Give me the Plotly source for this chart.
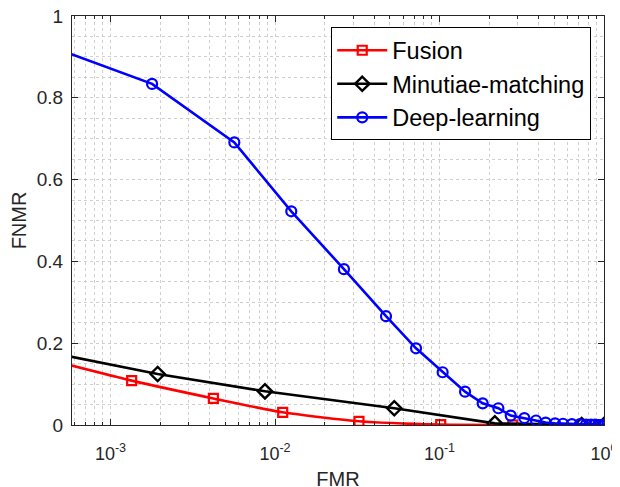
import plotly.graph_objects as go

# FMR / FNMR values
fusion_fmr = [5.0e-4, 1.345e-3, 4.22e-3, 1.114e-2, 3.24e-2, 1.017e-1, 2.79e-1, 1.0]
fusion_fnmr = [0.152, 0.1085, 0.065, 0.031, 0.009, 0.001, 0.0, 0.0]

minutiae_fmr = [5.0e-4, 1.935e-3, 8.69e-3, 5.31e-2, 2.17e-1, 7.31e-1, 1.0]
minutiae_fnmr = [0.172, 0.1247, 0.0824, 0.041, 0.004, 0.0, 0.0]

deep_fmr = [5.0e-4, 1.79e-3, 5.66e-3, 1.256e-2, 2.625e-2, 4.73e-2, 7.2e-2, 1.045e-1,
            1.43e-1, 1.83e-1, 2.28e-1, 2.71e-1, 3.28e-1, 3.86e-1, 4.42e-1, 5.04e-1,
            5.63e-1, 6.38e-1, 7.15e-1, 7.77e-1, 8.34e-1, 8.82e-1, 9.2e-1, 9.46e-1,
            9.6e-1, 9.72e-1, 9.8e-1, 9.86e-1, 9.92e-1, 9.96e-1, 1.0]
deep_fnmr = [0.916, 0.834, 0.691, 0.5225, 0.381, 0.266, 0.1875, 0.129,
             0.0816, 0.053, 0.041, 0.023, 0.017, 0.011, 0.006, 0.004,
             0.003, 0.002, 0.002, 0.001, 0.001, 0.001, 0.0, 0.0,
             0.0, 0.0, 0.0, 0.0, 0.0, 0.0, 0.0]

x_tickvals = [1e-3, 1e-2, 1e-1, 1.0]
x_ticktext = ['10<sup>-3</sup>', '10<sup>-2</sup>', '10<sup>-1</sup>', '10<sup>0</sup>']
x_minor = [m * 10.0 ** e for e in range(-4, 0) for m in range(2, 10)]

font_name = 'Liberation Sans, Arial, sans-serif'
axis_col = '#262626'
grid_col = '#cfcfcf'

fig = go.Figure()
fig.add_trace(go.Scatter(x=fusion_fmr, y=fusion_fnmr, name='Fusion', mode='lines+markers',
                         line=dict(color='#ff0000', width=2.6, shape='spline', smoothing=0.6),
                         marker=dict(symbol='square-open', size=9, color='#ff0000',
                                     line=dict(width=2.2, color='#ff0000'))))
fig.add_trace(go.Scatter(x=minutiae_fmr, y=minutiae_fnmr, name='Minutiae-matching', mode='lines+markers',
                         line=dict(color='#000000', width=2.6),
                         marker=dict(symbol='diamond-open', size=11, color='#000000',
                                     line=dict(width=2.4, color='#000000'))))
fig.add_trace(go.Scatter(x=deep_fmr, y=deep_fnmr, name='Deep-learning', mode='lines+markers',
                         line=dict(color='#0000ff', width=2.6),
                         marker=dict(symbol='circle-open', size=10, color='#0000ff',
                                     line=dict(width=2.2, color='#0000ff'))))

fig.update_xaxes(type='log', range=[-3.234, 0], tickmode='array',
                 tickvals=x_tickvals, ticktext=x_ticktext,
                 ticks='inside', ticklen=6, tickcolor=axis_col, mirror='ticks',
                 showline=True, linecolor=axis_col, linewidth=1,
                 showgrid=True, gridcolor=grid_col, griddash='dot', gridwidth=1,
                 minor=dict(tickvals=x_minor, ticks='inside', ticklen=3, tickcolor=axis_col,
                            showgrid=True, gridcolor=grid_col, griddash='dot', gridwidth=1),
                 tickfont=dict(size=18, color=axis_col), ticklabelstandoff=12,
                 ticklabeloverflow='allow',
                 title=dict(text='FMR', font=dict(size=20, color=axis_col), standoff=9),
                 zeroline=False, automargin=False)
fig.update_yaxes(range=[0, 1], tickmode='array', tickvals=[0, 0.2, 0.4, 0.6, 0.8, 1],
                 ticktext=['0', '0.2', '0.4', '0.6', '0.8', '1'],
                 ticks='inside', ticklen=6, tickcolor=axis_col, mirror='ticks',
                 showline=True, linecolor=axis_col, linewidth=1,
                 showgrid=True, gridcolor=grid_col, griddash='dot', gridwidth=1,
                 minor=dict(dtick=0.05, showgrid=True, gridcolor=grid_col, griddash='dot', gridwidth=1),
                 tickfont=dict(size=19, color=axis_col), ticklabelstandoff=4,
                 ticklabeloverflow='allow',
                 title=dict(text='FNMR', font=dict(size=20, color=axis_col), standoff=7),
                 zeroline=False, automargin=False)

# the page puts the plot 8px in from the top-left corner, so margins are offset
fig.update_layout(width=620, height=487, margin=dict(l=64, r=24, t=8, b=70),
                  paper_bgcolor='white', plot_bgcolor='white',
                  font=dict(family=font_name, color=axis_col),
                  legend=dict(x=0.976, y=0.972, xanchor='right', yanchor='top',
                              bgcolor='white', bordercolor='#000000', borderwidth=1,
                              font=dict(size=23.5, color='#000000'), itemwidth=50,
                              tracegroupgap=0),
                  showlegend=True)

fig.write_html("out.html")
